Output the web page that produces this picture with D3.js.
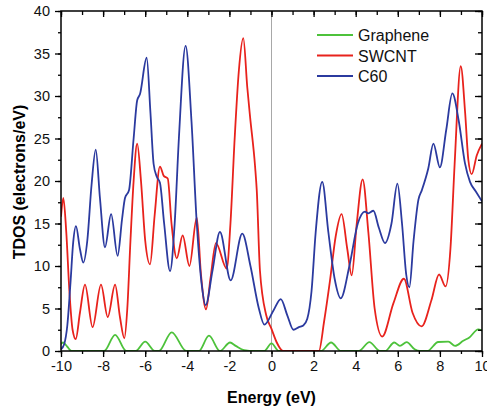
<!DOCTYPE html>
<html><head><meta charset="utf-8">
<script src="https://cdn.jsdelivr.net/npm/d3@7"></script>
<style>body{margin:0;background:#fff}svg{display:block}text{font-family:"Liberation Sans",Arial,sans-serif}</style>
</head><body>
<script>
const seriesNames = ["Graphene", "SWCNT", "C60"];
const seriesColors = ["#4dc23b", "#e8221c", "#2b3a9f"];
const xTicks = [-10, -8, -6, -4, -2, 0, 2, 4, 6, 8, 10];
const yTicks = [0, 5, 10, 15, 20, 25, 30, 35, 40];

const grapheneE = [-10,-9.9,-9.7,-9.5,-7.95,-7.43,-6.9,-6.45,-6.0,-5.55,-5.35,-4.74,-4.05,-3.45,-2.97,-2.45,-1.97,-1.7,-1.3,-0.8,-0.35,0,0.35,2.35,2.83,3.3,4.15,4.65,5.15,5.4,5.83,6.1,6.42,6.8,7.05,7.4,7.92,8.4,8.72,9.11,9.4,9.82,10];
const grapheneV = [0.8,1.0,0.5,0,0,1.9,0,0,1.1,0,0,2.2,0,0,1.8,0,1.0,0.6,0.1,0,0,0.9,0,0,1.0,0,0,1.05,0,0,1.0,0.6,1.05,0.2,0,0,1.06,1.1,0.6,1.2,1.6,2.55,2.4];

const swcntE = [-10,-9.89,-9.75,-9.6,-9.45,-9.3,-9.1,-8.86,-8.5,-8.1,-7.78,-7.43,-7.2,-6.99,-6.85,-6.7,-6.55,-6.38,-6.2,-6.0,-5.77,-5.55,-5.3,-5.12,-4.93,-4.75,-4.5,-4.22,-3.9,-3.55,-3.35,-3.11,-2.9,-2.64,-2.13,-1.95,-1.75,-1.55,-1.34,-1.15,-1.02,-0.78,-0.7,-0.55,-0.25,0,0.25,0.55,2.25,2.5,2.78,3.05,3.33,3.6,3.81,4.05,4.33,4.6,4.9,5.26,5.79,6.29,6.7,7.13,7.6,7.96,8.27,8.5,8.7,8.99,9.2,9.35,9.51,9.75,10];
const swcntV = [15.8,18.0,14,7,2.5,1.4,4.5,7.8,2.8,7.8,4.0,7.8,4,1.5,5,13,20,24.4,20,13,10.2,16,21.7,20.6,20.3,15,10.9,13.6,10.0,15.7,9,4.9,8.5,12.7,9.7,15,25,33,36.8,31,27.6,21.7,18.9,9.5,4.2,2.6,1,0,0,3.5,8.3,13.5,16.1,12,8.9,15,20.2,14,5,1.7,5.6,8.5,4.5,2.9,6,9.0,7.6,12,22,33.5,28,22.5,20.8,23,24.4];

const c60E = [-10,-9.85,-9.7,-9.55,-9.42,-9.29,-9.1,-8.94,-8.75,-8.55,-8.35,-8.15,-7.91,-7.62,-7.31,-7.1,-6.96,-6.77,-6.55,-6.38,-6.25,-5.93,-5.75,-5.6,-5.45,-5.3,-5.1,-4.82,-4.6,-4.4,-4.08,-3.8,-3.55,-3.3,-3.13,-2.8,-2.45,-1.94,-1.39,-1.0,-0.6,-0.34,0.1,0.44,0.75,1.04,1.3,1.51,1.7,1.9,2.1,2.41,2.7,3.0,3.29,3.7,4.1,4.44,4.6,4.84,5.1,5.39,5.7,5.98,6.2,6.4,6.55,6.75,6.98,7.14,7.45,7.69,8.0,8.3,8.59,8.9,9.19,9.43,9.7,10];
const c60V = [0.2,0.8,3,8,12.8,14.7,12,10.4,13,19.5,23.7,18,12.2,16.1,11.2,15.5,18,18.9,25,29.5,30.2,34.5,28,22,20.5,19.8,15,9.4,15,25,35.9,27,15,7.5,5.4,9.5,14.0,8.3,13.8,10,5,3.1,4.8,6.1,4.2,2.5,2.8,3.0,3.8,7,14,19.9,14,8.5,6.2,10,15,16.4,16.2,16.5,14.5,12.7,15,19.7,15,9,7.5,13,17.8,18.9,21.5,24.4,21.6,26,30.3,27,22.1,19.9,18.8,17.6];

const W = 487, H = 410;
const m = {l: 61, r: 482, t: 11, b: 351};
const svg = d3.select("body").append("svg").attr("width", W).attr("height", H);
const x = d3.scaleLinear().domain([-10, 10]).range([m.l, m.r]);
const y = d3.scaleLinear().domain([0, 40]).range([m.b, m.t]);

svg.append("clipPath").attr("id","c").append("rect")
  .attr("x", m.l).attr("y", m.t).attr("width", m.r - m.l).attr("height", m.b - m.t);

// zero line
svg.append("line").attr("x1", x(0)).attr("x2", x(0)).attr("y1", m.t).attr("y2", m.b)
  .attr("stroke", "#a8a8a8").attr("stroke-width", 1);

const line = d3.line().x(d => x(d[0])).y(d => y(d[1])).curve(d3.curveMonotoneX);
const data = [
  d3.zip(grapheneE, grapheneV),
  d3.zip(swcntE, swcntV),
  d3.zip(c60E, c60V)
];
const g = svg.append("g").attr("clip-path", "url(#c)");
data.forEach((d, i) => {
  g.append("path").datum(d).attr("d", line).attr("fill", "none")
    .attr("stroke", seriesColors[i]).attr("stroke-width", 1.8).attr("stroke-linejoin","round");
});

// axes
const xMinor = d3.range(-10, 10.01, 1);
const yMinor = d3.range(0, 40.01, 2.5);
const fs = "14.5px";
svg.append("g").attr("transform", `translate(0,${m.b})`)
  .call(d3.axisBottom(x).tickValues(xMinor).tickSize(3).tickFormat(""));
svg.append("g").attr("transform", `translate(0,${m.b})`)
  .call(d3.axisBottom(x).tickValues(xTicks).tickSize(6).tickPadding(4).tickFormat(d => d));
svg.append("g").attr("transform", `translate(0,${m.t})`)
  .call(d3.axisBottom(x).tickValues(xMinor).tickSize(4).tickFormat(""));
svg.append("g").attr("transform", `translate(0,${m.t})`)
  .call(d3.axisBottom(x).tickValues(xTicks).tickSize(6).tickFormat(""));
svg.append("g").attr("transform", `translate(${m.l},0)`)
  .call(d3.axisLeft(y).tickValues(yMinor).tickSize(3).tickFormat(""));
svg.append("g").attr("transform", `translate(${m.l},0)`)
  .call(d3.axisLeft(y).tickValues(yTicks).tickSize(6).tickPadding(5).tickFormat(d => d));
svg.append("g").attr("transform", `translate(${m.r},0)`)
  .call(d3.axisLeft(y).tickValues(yMinor).tickSize(4).tickFormat(""));
svg.append("g").attr("transform", `translate(${m.r},0)`)
  .call(d3.axisLeft(y).tickValues(yTicks).tickSize(7).tickFormat(""));
svg.selectAll(".domain").remove();
svg.selectAll(".tick line").attr("stroke", "#000").attr("stroke-width", 1.3);
svg.selectAll(".tick text").attr("font-size", fs).attr("fill", "#111")
  .style("font-family", '"Liberation Sans",Arial,sans-serif');

// frame
svg.append("rect").attr("x", m.l).attr("y", m.t).attr("width", m.r - m.l).attr("height", m.b - m.t)
  .attr("fill", "none").attr("stroke", "#000").attr("stroke-width", 1.5);

// axis titles
svg.append("text").attr("x", (m.l + m.r) / 2).attr("y", 403).attr("text-anchor", "middle")
  .attr("font-size", "16px").attr("font-weight", "bold").text("Energy (eV)");
svg.append("text").attr("transform", `translate(25,${(m.t + m.b) / 2 + 1}) rotate(-90)`)
  .attr("text-anchor", "middle").attr("font-size", "16px").attr("font-weight", "bold")
  .text("TDOS (electrons/eV)");

// legend
const lg = svg.append("g");
seriesNames.forEach((n, i) => {
  const yy = 35 + i * 20.5;
  lg.append("line").attr("x1", 317).attr("x2", 353).attr("y1", yy).attr("y2", yy)
    .attr("stroke", seriesColors[i]).attr("stroke-width", 1.8);
  lg.append("text").attr("x", 358).attr("y", yy + 6).attr("font-size", "16px").attr("fill", "#111").text(n);
});
</script>
</body></html>
